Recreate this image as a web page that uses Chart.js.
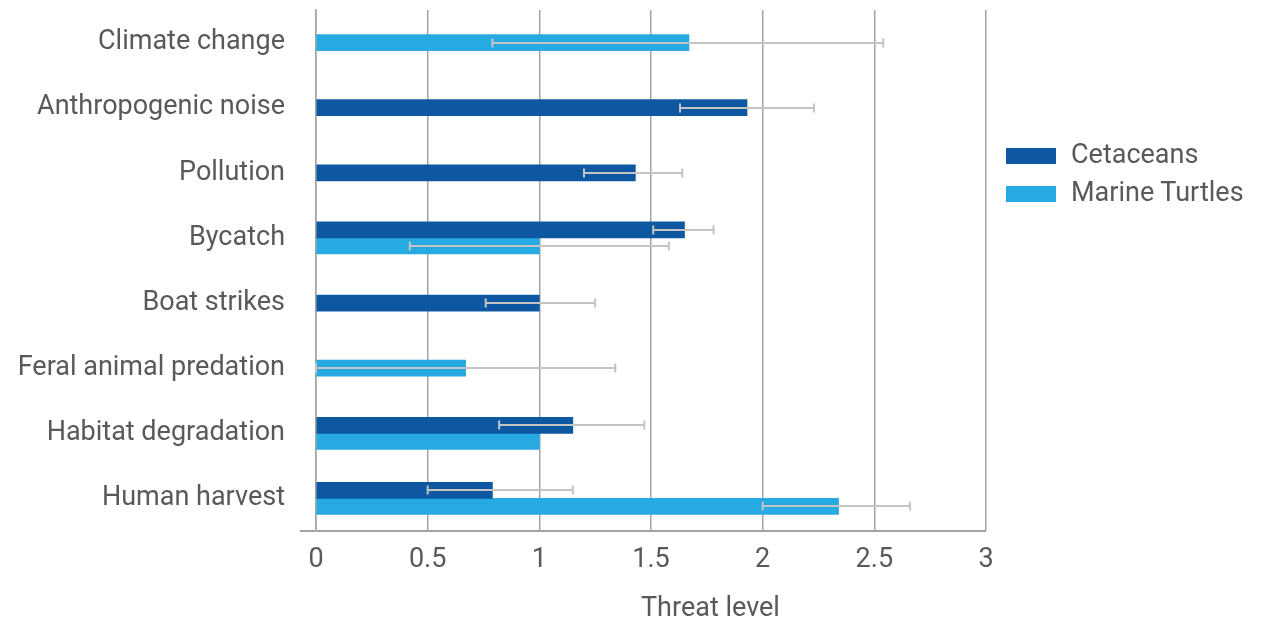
<!DOCTYPE html>
<html>
<head>
<meta charset="utf-8">
<script src="https://cdn.jsdelivr.net/npm/chart.js@4"></script>
<style>
  html, body { margin: 0; padding: 0; background: #fff; }
  #wrap { position: relative; width: 1264px; height: 624px; font-family: Roboto, sans-serif; color: #595959; }
  #chart { position: absolute; left: 0; top: 0; }
  .box { position: absolute; left: 1006px; width: 50px; height: 16px; }
  .txt { position: absolute; left: 1071px; font-size: 27px; line-height: 27px; white-space: nowrap; }
  #xtitle { position: absolute; left: 641px; top: 594px; font-size: 27px; line-height: 27px; white-space: nowrap; }
</style>
</head>
<body>
<div id="wrap">
  <canvas id="chart" width="1264" height="624"></canvas>
  <span class="box" style="top:148px;background:#0e58a2"></span><span class="txt" style="top:141px">Cetaceans</span>
  <span class="box" style="top:186px;background:#27aae1"></span><span class="txt" style="top:179px">Marine Turtles</span>
  <div id="xtitle">Threat level</div>
</div>
<script>
// threat categories, top to bottom
var categories = ['Climate change', 'Anthropogenic noise', 'Pollution', 'Bycatch',
  'Boat strikes', 'Feral animal predation', 'Habitat degradation', 'Human harvest'];

// mean threat level (null = not assessed)
var cetaceans = [null, 1.93, 1.43, 1.65, 1.0, null, 1.15, 0.79];
var turtles = [1.67, null, null, 1.0, null, 0.67, 1.0, 2.34];

// error bar ends
var cetLow = [null, 1.63, 1.20, 1.51, 0.76, null, 0.82, 0.50];
var cetHigh = [null, 2.23, 1.64, 1.78, 1.25, null, 1.47, 1.15];
var turLow = [0.79, null, null, 0.42, null, 0.0, null, 2.0];
var turHigh = [2.54, null, null, 1.58, null, 1.34, null, 2.66];

var xTicks = [0, 0.5, 1, 1.5, 2, 2.5, 3];

var labelFont = { family: 'Roboto', size: 27 };

var errorBars = {
  id: 'errorBars',
  afterDatasetsDraw: function (chart) {
    var ctx = chart.ctx;
    var xs = chart.scales.x;
    ctx.save();
    ctx.strokeStyle = '#c4c4c4';
    ctx.lineWidth = 2;
    chart.data.datasets.forEach(function (ds, di) {
      var meta = chart.getDatasetMeta(di);
      meta.data.forEach(function (bar, i) {
        var lo = ds.errLow[i], hi = ds.errHigh[i];
        if (lo == null || hi == null || ds.data[i] == null) return;
        var y = Math.round(bar.y);
        var x1 = xs.getPixelForValue(lo), x2 = xs.getPixelForValue(hi);
        ctx.beginPath();
        ctx.moveTo(x1, y); ctx.lineTo(x2, y);
        ctx.moveTo(x1, y - 4.5); ctx.lineTo(x1, y + 4.5);
        ctx.moveTo(x2, y - 4.5); ctx.lineTo(x2, y + 4.5);
        ctx.stroke();
      });
    });
    ctx.restore();
  }
};

new Chart(document.getElementById('chart'), {
  type: 'bar',
  data: {
    labels: categories,
    datasets: [
      { label: 'Cetaceans', data: cetaceans, errLow: cetLow, errHigh: cetHigh, backgroundColor: '#0e58a2' },
      { label: 'Marine Turtles', data: turtles, errLow: turLow, errHigh: turHigh, backgroundColor: '#27aae1' }
    ]
  },
  options: {
    indexAxis: 'y',
    responsive: false,
    animation: false,
    skipNull: true,
    barThickness: 16,
    layout: { padding: { top: 10, right: 278, left: 0, bottom: 0 } },
    plugins: { legend: { display: false }, tooltip: { enabled: false } },
    scales: {
      x: {
        min: 0, max: 3,
        afterBuildTicks: function (scale) { scale.ticks = xTicks.map(function (v) { return { value: v }; }); },
        afterFit: function (scale) { scale.height = 93; scale.paddingLeft = 0; scale.paddingRight = 0; },
        grid: { color: '#a3a3a3', lineWidth: 1.5, drawTicks: false },
        border: { display: false },
        ticks: {
          color: '#595959', padding: 13, font: labelFont,
          callback: function (v) { return String(v); }
        }
      },
      y: {
        afterFit: function (scale) { scale.width = 316; scale.paddingTop = 0; scale.paddingBottom = 0; },
        grid: {
          color: function (c) { return c.type === 'scale' ? '#a3a3a3' : 'rgba(0,0,0,0)'; },
          lineWidth: 2,
          tickLength: 16
        },
        border: { display: true, color: '#a3a3a3', width: 1.5 },
        ticks: { color: '#595959', padding: 15, font: labelFont }
      }
    }
  },
  plugins: [errorBars]
});
</script>
</body>
</html>
